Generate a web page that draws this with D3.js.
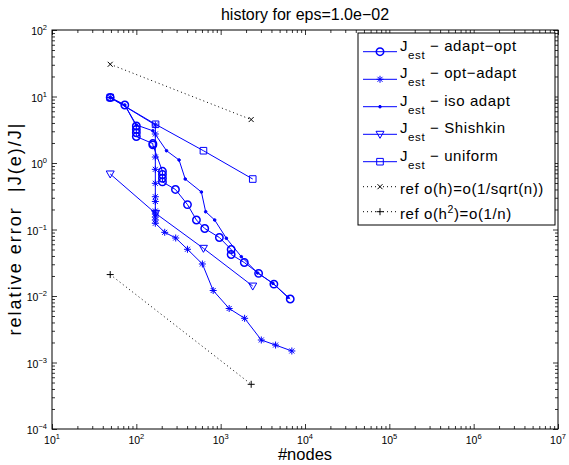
<!DOCTYPE html>
<html>
<head>
<meta charset="utf-8">
<script src="https://cdn.jsdelivr.net/npm/d3@7"></script>
<style>
  body { margin: 0; background: #fff; }
  svg { font-family: "Liberation Sans", Arial, Helvetica, sans-serif; }
</style>
</head>
<body>
<svg width="569" height="465"></svg>
<script>
// values (n = #nodes, e = relative error)
const adaptOptN = [49, 73, 100, 100, 100, 100, 157, 157, 204, 204, 204, 204, 291, 404, 516, 647, 966, 1332, 1332, 1907, 2818, 4277, 6682];
const adaptOptE = [9.66, 7.45, 3.6, 3.2, 2.85, 2.5, 1.96, 1.87, 0.75, 0.67, 0.59, 0.52, 0.40, 0.237, 0.139, 0.1035, 0.0758, 0.050, 0.0421, 0.0319, 0.0219, 0.0151, 0.00901];

const optAdaptN = [49, 168, 168, 168, 168, 168, 168, 168, 168, 168, 168, 168, 168, 217, 293, 404, 607, 815, 1261, 1923, 3033, 4477, 6982];
const optAdaptE = [9.66, 3.73, 2.73, 1.23, 0.803, 0.495, 0.311, 0.264, 0.19, 0.171, 0.154, 0.139, 0.124, 0.0907, 0.0745, 0.0504, 0.0303, 0.0121, 0.00649, 0.00462, 0.00218, 0.00183, 0.00149];

const isoAdaptN = [49, 73, 100, 157, 228, 321, 380, 591, 664, 849, 1168, 1758, 2742, 4161, 6252];
const isoAdaptE = [9.66, 7.45, 3.73, 3.05, 1.53, 1.11, 0.574, 0.366, 0.185, 0.139, 0.0738, 0.039, 0.0222, 0.0155, 0.00955];

const shishkinN = [49, 169, 625, 2401];
const shishkinE = [0.684, 0.175, 0.0521, 0.0141];

const uniformN = [49, 169, 625, 2401];
const uniformE = [9.66, 3.82, 1.53, 0.574];

const refHN = [49, 2300];
const refHE = [30.5, 4.5];
const refH2N = [49, 2300];
const refH2E = [0.021, 0.00047];

const xTickExp = [1, 2, 3, 4, 5, 6, 7];
const yTickExp = [-4, -3, -2, -1, 0, 1, 2];

const seriesNames = ["adapt\u2212opt", "opt\u2212adapt", "iso adapt", "Shishkin", "uniform"];

// series table built from the arrays above
const zip = (ns, es) => ns.map((n, i) => ({ n: n, e: es[i] }));
const series = [
  { pts: zip(adaptOptN, adaptOptE), marker: "o", color: "#0000ff", dash: null, label: seriesNames[0] },
  { pts: zip(optAdaptN, optAdaptE), marker: "*", color: "#0000ff", dash: null, label: seriesNames[1] },
  { pts: zip(isoAdaptN, isoAdaptE), marker: ".", color: "#0000ff", dash: null, label: seriesNames[2] },
  { pts: zip(shishkinN, shishkinE), marker: "v", color: "#0000ff", dash: null, label: seriesNames[3] },
  { pts: zip(uniformN, uniformE), marker: "s", color: "#0000ff", dash: null, label: seriesNames[4] },
  { pts: zip(refHN, refHE), marker: "x", color: "#000", dash: "1,3", label: "ref1" },
  { pts: zip(refH2N, refH2E), marker: "+", color: "#000", dash: "1,3", label: "ref2" }
];

// plot area
const margin = { top: 30, right: 11, bottom: 36, left: 52 };
const width = 569 - margin.left - margin.right;
const height = 465 - margin.top - margin.bottom;

const svg = d3.select("svg");
const g = svg.append("g").attr("transform", `translate(${margin.left},${margin.top})`);

const x = d3.scaleLog().domain([1e1, 1e7]).range([0, width]);
const y = d3.scaleLog().domain([1e-4, 1e2]).range([height, 0]);

const xMajor = xTickExp.map(k => Math.pow(10, k));
const yMajor = yTickExp.map(k => Math.pow(10, k));
const minorOf = majors => majors.slice(0, -1).flatMap(m => d3.range(2, 10).map(k => k * m));
const xMinor = minorOf(xMajor);
const yMinor = minorOf(yMajor);

// ticks on all four sides, pointing inward
function ticks(axis, vals, size, tr) {
  const a = g.append("g")
    .attr("transform", tr)
    .call(axis.tickValues(vals).tickSize(-size).tickSizeOuter(0).tickFormat(""));
  a.select(".domain").remove();
  a.selectAll("line").attr("stroke", "#000").attr("stroke-width", 0.8);
}
ticks(d3.axisBottom(x), xMajor, 5, `translate(0,${height})`);
ticks(d3.axisBottom(x), xMinor, 3, `translate(0,${height})`);
ticks(d3.axisTop(x), xMajor, 5, null);
ticks(d3.axisTop(x), xMinor, 3, null);
ticks(d3.axisLeft(y), yMajor, 5, null);
ticks(d3.axisLeft(y), yMinor, 3, null);
ticks(d3.axisRight(y), yMajor, 5, `translate(${width},0)`);
ticks(d3.axisRight(y), yMinor, 3, `translate(${width},0)`);

g.append("rect")
  .attr("width", width).attr("height", height)
  .attr("fill", "none").attr("stroke", "#000").attr("stroke-width", 1);

// tick labels 10^k
const fmtExp = k => (k < 0 ? "\u2212" : "") + Math.abs(k);
const xl = g.selectAll(".xlab").data(xTickExp).join("text")
  .attr("class", "xlab")
  .attr("x", k => x(Math.pow(10, k)))
  .attr("y", height + 15)
  .attr("text-anchor", "middle")
  .attr("font-size", 10.5);
xl.append("tspan").text("10");
xl.append("tspan").attr("dy", -5).attr("font-size", 7.5).text(fmtExp);

const yl = g.selectAll(".ylab").data(yTickExp).join("text")
  .attr("class", "ylab")
  .attr("x", -5)
  .attr("y", k => y(Math.pow(10, k)) + 5)
  .attr("text-anchor", "end")
  .attr("font-size", 10.5);
yl.append("tspan").text("10");
yl.append("tspan").attr("dy", -5).attr("font-size", 7.5).text(fmtExp);

// titles
svg.append("text")
  .attr("x", margin.left + width / 2).attr("y", 20)
  .attr("text-anchor", "middle").attr("font-size", 16)
  .text("history for eps=1.0e\u221202");

svg.append("text")
  .attr("x", margin.left + width / 2).attr("y", 460)
  .attr("text-anchor", "middle").attr("font-size", 16.5)
  .text("#nodes");

svg.append("text")
  .attr("transform", `translate(21,${margin.top + height / 2}) rotate(-90)`)
  .attr("text-anchor", "middle").attr("font-size", 18)
  .attr("textLength", 212).attr("lengthAdjust", "spacing")
  .style("white-space", "pre")
  .text("relative error  |J(e)/J|");

// marker shapes (MATLAB-like)
function markerPath(type) {
  switch (type) {
    case "o": return "M3.7,0A3.7,3.7,0,1,1,-3.7,0A3.7,3.7,0,1,1,3.7,0Z";
    case "*": return "M-3.5,0H3.5M0,-3.5V3.5M-2.5,-2.5L2.5,2.5M-2.5,2.5L2.5,-2.5";
    case ".": return "M1.3,0A1.3,1.3,0,1,1,-1.3,0A1.3,1.3,0,1,1,1.3,0Z";
    case "v": return "M-4,-3L4,-3L0,4Z";
    case "s": return "M-3.3,-3.3H3.3V3.3H-3.3Z";
    case "x": return "M-2.5,-2.5L2.5,2.5M-2.5,2.5L2.5,-2.5";
    case "+": return "M-3.5,0H3.5M0,-3.5V3.5";
  }
}
function drawMarker(sel, s) {
  sel.append("path")
    .attr("d", markerPath(s.marker))
    .attr("fill", s.marker === "." ? s.color : "none")
    .attr("stroke", s.color)
    .attr("stroke-width", s.marker === "o" ? 1.5 : 1);
}

const line = d3.line().x(d => x(d.n)).y(d => y(d.e));

series.forEach(s => {
  g.append("path")
    .datum(s.pts)
    .attr("d", line)
    .attr("fill", "none")
    .attr("stroke", s.color)
    .attr("stroke-width", 1)
    .attr("stroke-dasharray", s.dash);
  g.selectAll(null).data(s.pts).join("g")
    .attr("transform", d => `translate(${x(d.n)},${y(d.e)})`)
    .each(function () { drawMarker(d3.select(this), s); });
});

// legend
const legend = svg.append("g").attr("transform", "translate(358,33)");
legend.append("rect")
  .attr("width", 197).attr("height", 192)
  .attr("fill", "#fff").attr("stroke", "#000").attr("stroke-width", 1);

const rowY = [18.7, 46.3, 73.7, 101.3, 128.7, 153.7, 178.7];
series.forEach((s, i) => {
  const row = legend.append("g").attr("transform", `translate(0,${rowY[i]})`);
  row.append("line")
    .attr("x1", 5).attr("x2", 39)
    .attr("stroke", s.color).attr("stroke-width", 1)
    .attr("stroke-dasharray", s.dash);
  drawMarker(row.append("g").attr("transform", "translate(22,0)"), s);

  const t = row.append("text").attr("x", 42).attr("font-size", 15).attr("letter-spacing", 0.6);
  if (i < 5) {
    t.attr("y", -1);
    t.append("tspan").text("J");
    t.append("tspan").attr("dy", 8).attr("font-size", 11.5).text("est");
    t.append("tspan").attr("dy", -8).text(" \u2212 " + s.label);
  } else if (i === 5) {
    t.attr("y", 7).text("ref o(h)=o(1/sqrt(n))");
  } else {
    t.attr("y", 7);
    t.append("tspan").text("ref o(h");
    t.append("tspan").attr("dy", -6).attr("font-size", 10.5).text("2");
    t.append("tspan").attr("dy", 6).text(")=o(1/n)");
  }
});
</script>
</body>
</html>
